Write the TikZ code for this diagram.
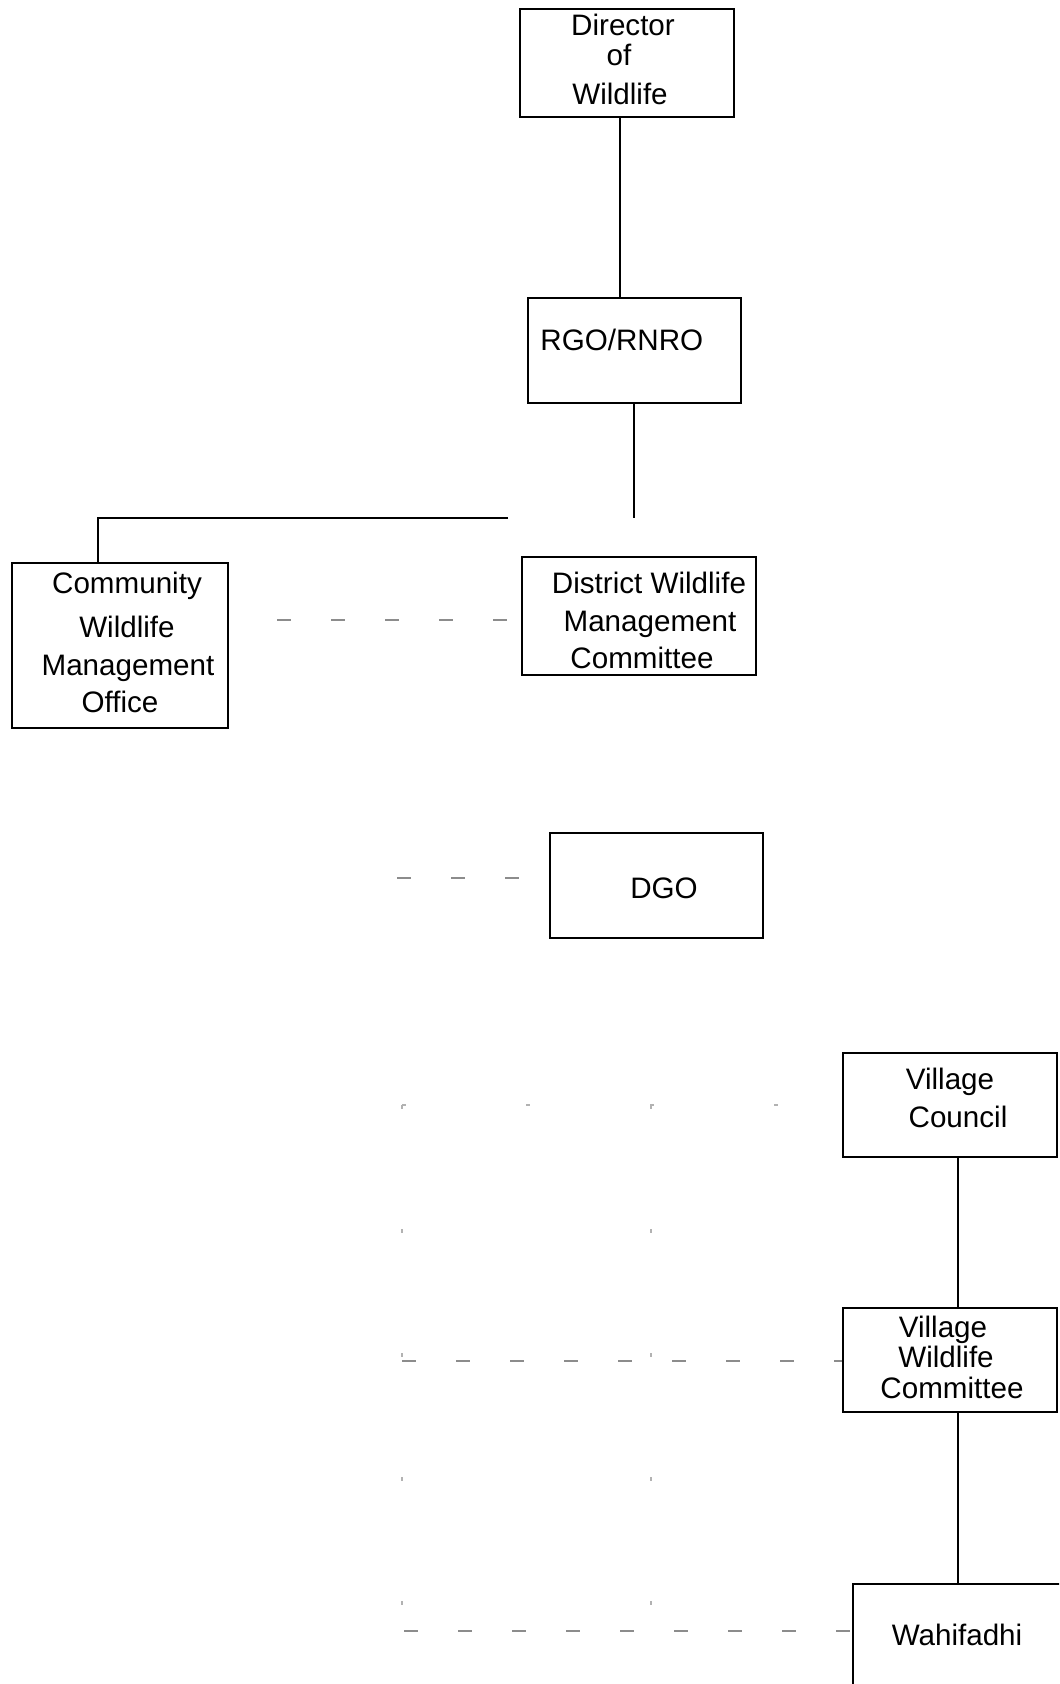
\documentclass[tikz,border=0pt]{standalone}
\usepackage{fontspec}
\setmainfont{Liberation Sans}
\usetikzlibrary{fit}
\begin{document}
\begin{tikzpicture}[x=0.5pt,y=-0.5pt,
  box/.style={draw=black,line width=1pt,inner sep=0pt,rectangle},
  conn/.style={draw=black,line width=0.7pt},
  faint/.style={draw=black!45,line width=0.8pt,dash pattern=on 7pt off 20pt},
  fainter/.style={draw=black!30,line width=0.7pt,dash pattern=on 2pt off 60pt},
  txt/.style={anchor=base,inner sep=0pt,font=\fontsize{14.8pt}{17pt}\selectfont}]
\useasboundingbox (0,0) rectangle (1059,1684);
\clip (0,0) rectangle (1059,1684);
% boxes
\node[box,fit={(520,9) (734,117)}] (dir) {};
\node[box,fit={(528,298) (741,403)}] (rgo) {};
\node[box,fit={(12,563) (228,728)}] (cw) {};
\node[box,fit={(522,557) (756,675)}] (dw) {};
\node[box,fit={(550,833) (763,938)}] (dgo) {};
\node[box,fit={(843,1053) (1057,1157)}] (vc) {};
\node[box,fit={(843,1308) (1057,1412)}] (vwc) {};
\node[box,fit={(853,1584) (1090,1720)}] (wah) {};
% texts
\node[txt] (dirA) at (623,36) {Director};
\node[txt] (dirB) at (619,66) {of};
\node[txt] (dirC) at (620,105) {Wildlife};
\node[txt,anchor=base west] (rgoA) at (540,351) {RGO/RNRO};
\node[txt] (cwA) at (127,593) {Community};
\node[txt] (cwB) at (127,637) {Wildlife};
\node[txt] (cwC) at (128,675) {Management};
\node[txt] (cwD) at (120,712) {Office};
\node[txt] (dwA) at (649,593) {District Wildlife};
\node[txt] (dwB) at (650,631) {Management};
\node[txt] (dwC) at (642,668) {Committee};
\node[txt] (dgoA) at (664,898) {DGO};
\node[txt] (vcA) at (950,1089) {Village};
\node[txt] (vcB) at (958,1127) {Council};
\node[txt] (vwcA) at (943,1337) {Village};
\node[txt] (vwcB) at (946,1367) {Wildlife};
\node[txt] (vwcC) at (952,1398) {Committee};
\node[txt] (wahA) at (957,1645) {Wahifadhi};
% solid connectors
\coordinate (c1) at (620,0);
\draw[conn] (dir.south -| c1) -- (rgo.north -| c1);
\coordinate (rgoEnd) at (634,518);
\draw[conn] (rgo.south -| rgoEnd) -- (rgoEnd);
\coordinate (hR) at (508,518);
\coordinate (hL) at (98,518);
\draw[conn] (hR) -- (hL) -- (cw.north -| hL);
\coordinate (c2) at (958,0);
\draw[conn] (vc.south -| c2) -- (vwc.north -| c2);
\draw[conn] (vwc.south -| c2) -- (wah.north -| c2);
% faint dashed connectors
\coordinate (d1) at (277,620);
\draw[faint] (d1) -- (dw.west |- d1);
\coordinate (d2) at (397,878);
\draw[faint] (d2) -- (dgo.west |- d2);
\coordinate (d3) at (402,1105);
\draw[fainter] (d3) -- (vc.west |- d3);
\coordinate (d4) at (402,1361);
\draw[faint] (d4) -- (vwc.west |- d4);
\coordinate (d5) at (404,1631);
\draw[faint] (d5) -- (wah.west |- d5);
\coordinate (v1) at (402,1105);
\coordinate (v1e) at (402,1631);
\draw[fainter] (v1) -- (v1e);
\coordinate (v2) at (651,1105);
\coordinate (v2e) at (651,1631);
\draw[fainter] (v2) -- (v2e);
\end{tikzpicture}
\end{document}
